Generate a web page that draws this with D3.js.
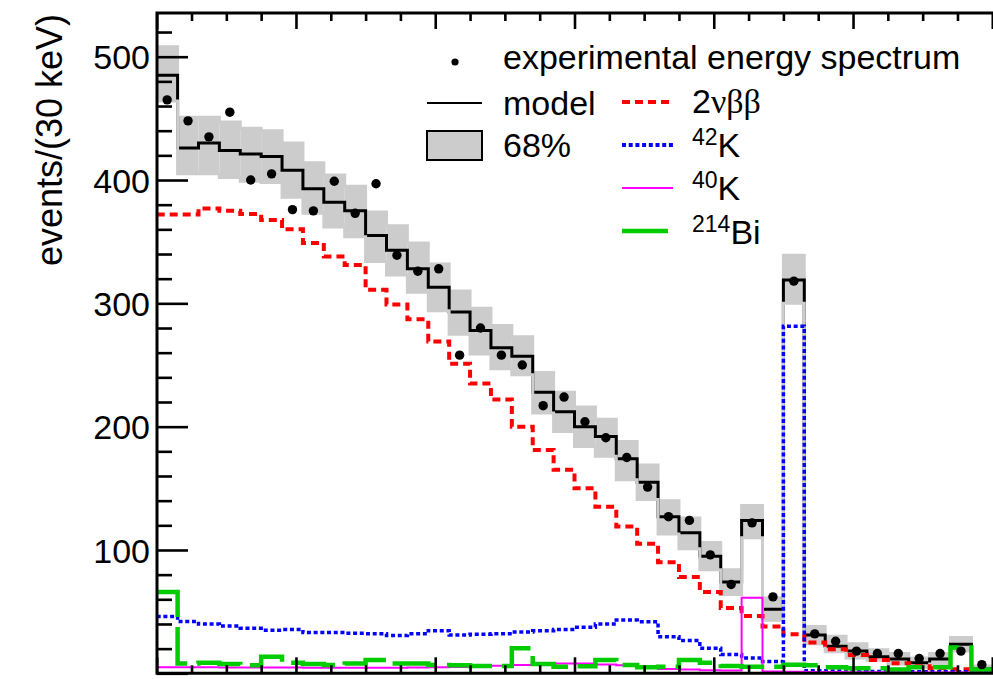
<!DOCTYPE html>
<html><head><meta charset="utf-8">
<script src="https://cdn.jsdelivr.net/npm/d3@7"></script>
<style>
body{margin:0;background:#fff}
svg{display:block}
text{font-family:"Liberation Sans",Arial,Helvetica,sans-serif;fill:#000}
</style>
</head><body>
<svg id="chart" width="993" height="679"></svg>
<script>
// ---- data (bins of 30 keV, lower edges) ----
const binLow = [600,630,660,690,720,750,780,810,840,870,900,930,960,990,1020,1050,1080,1110,1140,1170,1200,1230,1260,1290,1320,1350,1380,1410,1440,1470,1500,1530,1560,1590,1620,1650,1680,1710,1740,1770];
const binWidth = 30;
const dataCounts  = [465,448,435,455,400,405,376,375,399,373,397,339,326,328,258,280,258,250,217,224,204,191,175,151,127,124,96,72,122,62,318,32,26,18,16,16,12,16,18,7];
const modelCounts = [485,426,430,424,421,419,408,393,382,375,355,343,328,313,293,278,264,257,228,212,200,192,174,155,127,114,95,74,124,52,319,31,22,18,13.5,11.6,8.6,11.6,23.5,3.5];
const bandHigh    = [508,451,451,447,442,440,430,414,404,395,374,363,349,332,310,296,282,273,244,228,216,206,188,169,140,126,106,84,136,61,339,38,30,24,19,16,12.5,16,29,6];
const bandLow     = [464,405,405,402,399,398,386,373,362,354,334,323,309,294,275,259,247,242,211,196,184,176,157,141,113,101,84,64,110,43,300,24,17.5,12.5,10.5,7.5,5,7.5,18,1.5];
const bb2nu  = [372,372,377,375,372.5,367.5,360,349,338,331,311,299,287,269,251,235,222,200,181,165,150,135,119,105,90,78,66,53,46.5,38,31.6,25,19.6,14.8,10.8,8.1,5.8,4,3.2,2.2];
const k42    = [46,42,40,38.3,36.5,35,35.5,33,33,32.4,32,30.6,32,34.6,31,31.6,32,33.5,34.6,35.6,37.3,40,43.2,41.9,29.7,26.5,20.3,15.2,12.4,9.5,281.5,2,1.8,1.6,1.5,1.4,1.3,1.2,1.2,1.1];
const k40    = [5,5,5,4.8,4.8,4.7,4.7,4.6,4.6,4.5,4.5,4.6,4.8,5,5.2,5.5,6.2,6.8,7.5,8,8,7.2,6.5,4.5,3.5,3,2.5,2.2,61.3,1.5,1.2,1,1,0.9,0.8,0.8,0.7,0.6,0.6,0.5];
const bi214  = [66,8,8.6,7.5,6.5,13.5,8.6,7.5,6.8,8,10.8,8,8,6.7,6.5,6,6,20.3,7.5,5.4,5.8,10.8,6.8,4.9,5.4,10.8,8.6,6,5.4,5.4,7,6.5,5,4,4,3,5,5,21,3];
const yMajorTicks = [0,100,200,300,400,500];
const yTickLabels = ["","100","200","300","400","500"];
const yMinorTicks = [20,40,60,80,120,140,160,180,220,240,260,280,320,340,360,380,420,440,460,480,520];
const xMajorTicks = [600,800,1000,1200,1400,1600,1800];
const xMinorTicks = [650,700,750,850,900,950,1050,1100,1150,1250,1300,1350,1450,1500,1550,1650,1700,1750];
const yTitle = "events/(30 keV)";

// ---- layout ----
const L = 157, T = 13, B = 673.3;
const svg = d3.select("#chart");
const x = d3.scaleLinear().domain([600,1800]).range([156.7, 992.3]);
const y = d3.scaleLinear().domain([0,500]).range([673.3, 56.7]);

svg.append("defs").append("clipPath").attr("id","plot")
  .append("rect").attr("x",L).attr("y",T).attr("width",993-L).attr("height",B-T);
const plot = svg.append("g").attr("clip-path","url(#plot)");

function steps(vals){
  const pts=[];
  vals.forEach((v,i)=>{pts.push([binLow[i],v]);pts.push([binLow[i]+binWidth,v]);});
  return pts;
}
const line = d3.line().x(d=>x(d[0])).y(d=>y(d[1]));

// band fill
plot.selectAll("rect.band").data(binLow).enter().append("rect")
  .attr("x",(d)=>x(d)).attr("width",(d)=>x(d+binWidth)-x(d))
  .attr("y",(d,i)=>y(bandHigh[i])).attr("height",(d,i)=>y(bandLow[i])-y(bandHigh[i]))
  .attr("fill","#cccccc");
plot.append("path").attr("d",line(steps(bandHigh))).attr("fill","none").attr("stroke","#cccccc").attr("stroke-width",3);
// model
plot.append("path").attr("d",line(steps(modelCounts))).attr("fill","none").attr("stroke","#000").attr("stroke-width",3);
plot.append("path").attr("d",line(steps(bandLow))).attr("fill","none").attr("stroke","#cccccc").attr("stroke-width",3);
// components
plot.append("path").attr("d",line(steps(bb2nu))).attr("fill","none").attr("stroke","#ff0000").attr("stroke-width",4).attr("stroke-dasharray","8,5");
plot.append("path").attr("d",line(steps(k42))).attr("fill","none").attr("stroke","#0000ff").attr("stroke-width",3.5).attr("stroke-dasharray","4,2.7");
plot.append("path").attr("d",line(steps(k40))).attr("fill","none").attr("stroke","#ff00ff").attr("stroke-width",2);
plot.append("path").attr("d",line(steps(bi214))).attr("fill","none").attr("stroke","#00cc00").attr("stroke-width",4.5).attr("stroke-dasharray","46,10");
// data points
plot.selectAll("circle.pt").data(dataCounts).enter().append("circle")
  .attr("cx",(d,i)=>x(binLow[i]+binWidth/2)).attr("cy",d=>y(d)).attr("r",4.7).attr("fill","#000");

// ---- axes / frame ----
function styleAxis(g){ g.selectAll("path.domain").remove(); g.selectAll(".tick line").attr("stroke","#000").attr("stroke-width",2.6); }
svg.append("g").attr("transform",`translate(${L},0)`)
  .call(d3.axisLeft(y).tickValues(yMajorTicks).tickSize(-31).tickPadding(7).tickFormat((d,i)=>yTickLabels[i]))
  .call(styleAxis)
  .call(g=>g.selectAll(".tick text").attr("font-size",34).attr("font-family","Liberation Sans, Arial, sans-serif").attr("fill","#000").attr("dy","0.36em"));
svg.append("g").attr("transform",`translate(${L},0)`)
  .call(d3.axisLeft(y).tickValues(yMinorTicks).tickSize(-15).tickFormat(""))
  .call(styleAxis);
svg.append("g").attr("transform",`translate(0,${T})`)
  .call(d3.axisTop(x).tickValues(xMajorTicks).tickSize(-16).tickFormat("")).call(styleAxis);
svg.append("g").attr("transform",`translate(0,${T})`)
  .call(d3.axisTop(x).tickValues(xMinorTicks).tickSize(-8).tickFormat("")).call(styleAxis);
svg.append("g").attr("transform",`translate(0,${B})`)
  .call(d3.axisBottom(x).tickValues(xMajorTicks).tickSize(-16).tickFormat("")).call(styleAxis);
svg.append("g").attr("transform",`translate(0,${B})`)
  .call(d3.axisBottom(x).tickValues(xMinorTicks).tickSize(-8).tickFormat("")).call(styleAxis);

svg.append("path").attr("d",`M1000,${T}H${L}V${B}H1000`).attr("fill","none").attr("stroke","#000").attr("stroke-width",3);

// y title
svg.append("text").attr("transform","translate(62,140) rotate(-90)")
  .attr("text-anchor","middle").attr("font-size",36).text(yTitle);

// ---- legend ----
const lg = svg.append("g").attr("font-size",34);
lg.append("circle").attr("cx",455).attr("cy",62).attr("r",3.6).attr("fill","#000");
lg.append("text").attr("x",503).attr("y",69).text("experimental energy spectrum");
lg.append("line").attr("x1",427).attr("x2",482).attr("y1",103).attr("y2",103).attr("stroke","#000").attr("stroke-width",2);
lg.append("text").attr("x",503).attr("y",115).text("model");
lg.append("rect").attr("x",427).attr("y",131).attr("width",55).attr("height",29).attr("fill","#cccccc").attr("stroke","#000").attr("stroke-width",2);
lg.append("text").attr("x",503).attr("y",157).text("68%");

lg.append("line").attr("x1",622).attr("x2",673).attr("y1",102).attr("y2",102).attr("stroke","#ff0000").attr("stroke-width",4).attr("stroke-dasharray","8,5");
const t1 = lg.append("text").attr("x",692).attr("y",113);
t1.append("tspan").text("2");
t1.append("tspan").attr("font-family","Liberation Serif, Times New Roman, serif").text("νββ");

lg.append("line").attr("x1",622).attr("x2",673).attr("y1",145).attr("y2",145).attr("stroke","#0000ff").attr("stroke-width",4).attr("stroke-dasharray","4,2.7");
const t2 = lg.append("text").attr("x",692).attr("y",157);
t2.append("tspan").attr("font-size",23).attr("dy",-12).text("42");
t2.append("tspan").attr("dy",12).text("K");

lg.append("line").attr("x1",622).attr("x2",673).attr("y1",188).attr("y2",188).attr("stroke","#ff00ff").attr("stroke-width",2);
const t3 = lg.append("text").attr("x",692).attr("y",200);
t3.append("tspan").attr("font-size",23).attr("dy",-12).text("40");
t3.append("tspan").attr("dy",12).text("K");

lg.append("line").attr("x1",622).attr("x2",668).attr("y1",231).attr("y2",231).attr("stroke","#00cc00").attr("stroke-width",4.5);
const t4 = lg.append("text").attr("x",692).attr("y",244);
t4.append("tspan").attr("font-size",23).attr("dy",-12).text("214");
t4.append("tspan").attr("dy",12).text("Bi");
</script>
</body></html>
